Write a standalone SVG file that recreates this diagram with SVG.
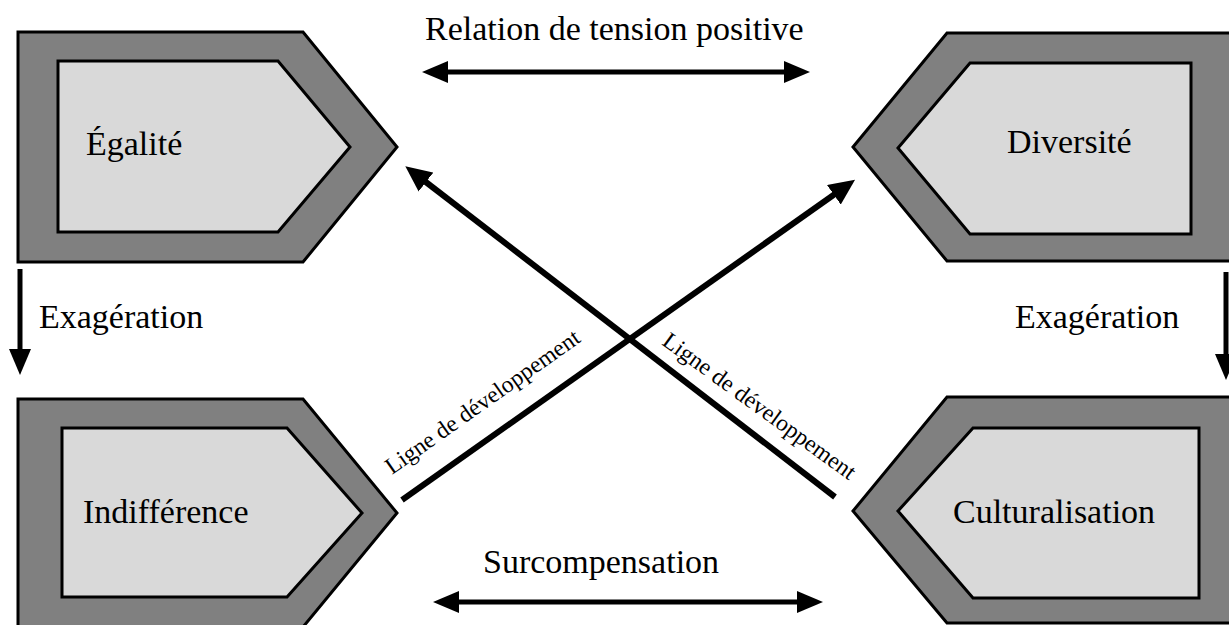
<svg xmlns="http://www.w3.org/2000/svg" width="1229" height="625" viewBox="0 0 1229 625">
  <style>
    .outer { fill: #808080; stroke: #000; stroke-width: 3; stroke-linejoin: miter; }
    .inner { fill: #d9d9d9; stroke: #000; stroke-width: 3; stroke-linejoin: miter; }
    .lbl { font-family: "Liberation Serif", "Times New Roman", serif; font-size: 34px; fill: #000; }
    .small { font-family: "Liberation Serif", "Times New Roman", serif; font-size: 23.5px; fill: #000; }
    .h { stroke: #000; stroke-width: 5; fill: none; }
    .v { stroke: #000; stroke-width: 5; fill: none; }
    .d { stroke: #000; stroke-width: 6; fill: none; }
  </style>
  <defs>
    <marker id="ah" viewBox="0 0 26 22" refX="10" refY="11" markerWidth="26" markerHeight="22" markerUnits="userSpaceOnUse" orient="auto-start-reverse">
      <path d="M0,0 L26,11 L0,22 z" fill="#000"/>
    </marker>
    <marker id="ahd" viewBox="0 0 26 24" refX="10" refY="12" markerWidth="26" markerHeight="24" markerUnits="userSpaceOnUse" orient="auto">
      <path d="M0,0 L26,12 L0,24 z" fill="#000"/>
    </marker>
  </defs>
  <rect width="1229" height="625" fill="#fff"/>

  <g id="node-egalite">
    <polygon class="outer" points="18,32 303,32 397,147 303,262 18,262"/>
    <polygon class="inner" points="58,61 278,61 350,147 278,232 58,232"/>
    <text class="lbl" x="86" y="155">Égalité</text>
  </g>
  <g id="node-diversite">
    <polygon class="outer" points="853,147 947,33 1240,33 1240,261 947,261"/>
    <polygon class="inner" points="898,148 970,63 1191,63 1191,234 970,234"/>
    <text class="lbl" x="1007" y="153">Diversité</text>
  </g>
  <g id="node-indifference">
    <polygon class="outer" points="18,399 303,399 397,513 303,627 18,627"/>
    <polygon class="inner" points="62,428 287,428 362,513 287,597 62,597"/>
    <text class="lbl" x="83" y="523">Indifférence</text>
  </g>
  <g id="node-culturalisation">
    <polygon class="outer" points="853,511 947,397 1240,397 1240,623 947,623"/>
    <polygon class="inner" points="898,511 973,428 1199,428 1199,598 973,598"/>
    <text class="lbl" x="953" y="523">Culturalisation</text>
  </g>

  <g id="connectors">
    <line class="h" x1="438" y1="72" x2="794" y2="72" marker-start="url(#ah)" marker-end="url(#ah)"/>
    <line class="h" x1="449" y1="602" x2="807" y2="602" marker-start="url(#ah)" marker-end="url(#ah)"/>
    <line class="v" x1="20" y1="269" x2="20" y2="359" marker-end="url(#ah)"/>
    <line class="v" x1="1226" y1="272" x2="1226" y2="364" marker-end="url(#ah)"/>
    <line class="d" x1="835" y1="497" x2="418" y2="176" marker-end="url(#ahd)"/>
    <line class="d" x1="402" y1="500" x2="842" y2="189" marker-end="url(#ahd)"/>
  </g>

  <g id="labels">
    <text class="lbl" x="425" y="40">Relation de tension positive</text>
    <text class="lbl" x="483" y="573">Surcompensation</text>
    <text class="lbl" x="39" y="328">Exagération</text>
    <text class="lbl" x="1015" y="328">Exagération</text>
    <text class="small" transform="translate(392,475) rotate(-35.2)">Ligne de développement</text>
    <text class="small" transform="translate(661,344) rotate(36)">Ligne de développement</text>
  </g>
</svg>
